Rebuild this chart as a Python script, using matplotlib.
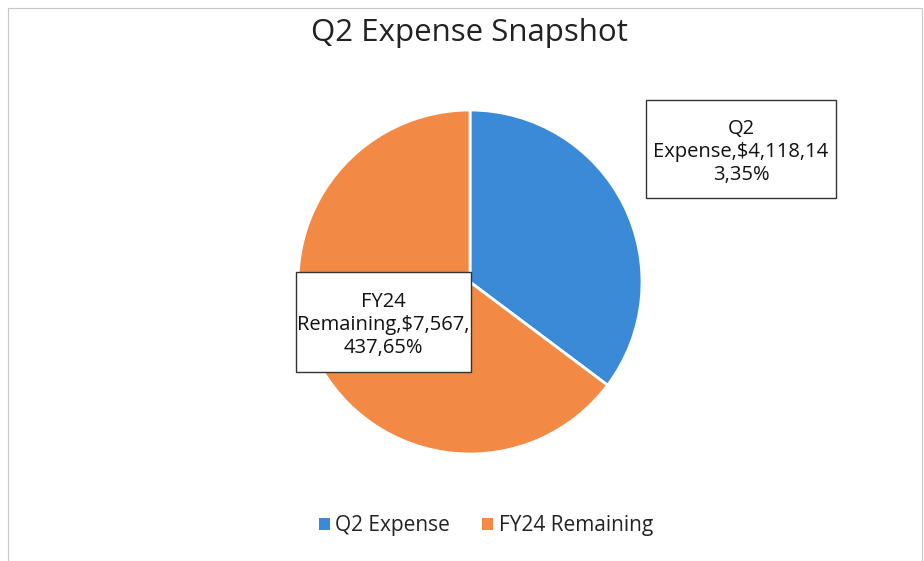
import matplotlib
matplotlib.use("Agg")
import matplotlib.pyplot as plt
from matplotlib.patches import Rectangle

plt.rcParams['font.family'] = ['Open Sans', 'DejaVu Sans']

categories = ["Q2 Expense", "FY24 Remaining"]
values = [4118143, 7567437]
percents = [35, 65]
label_texts = ["Q2\nExpense,$4,118,14\n3,35%", "FY24\nRemaining,$7,567,\n437,65%"]
colors = ["#3A8AD8", "#F28A45"]
title = "Q2 Expense Snapshot"

W, H = 924, 561
fig = plt.figure(figsize=(W / 100, H / 100), dpi=100)
fig.patch.set_facecolor("white")

def fx(x): return x / W
def fy(y): return 1 - y / H

# outer chart border
fig.add_artist(Rectangle((fx(8), fy(561)), fx(914), 553 / H, transform=fig.transFigure,
                         fill=False, edgecolor="#c8c8c8", linewidth=0.8))

# pie
cx, cy, r = 470, 282, 172
ax = fig.add_axes([fx(cx - r), fy(cy + r), 2 * r / W, 2 * r / H])
ax.pie(values, colors=colors, startangle=90, counterclock=False,
       wedgeprops=dict(edgecolor="white", linewidth=2))
ax.set_xlim(-1, 1)
ax.set_ylim(-1, 1)
ax.set_aspect("auto")
ax.axis("off")

fig.text(fx(469), fy(33), title, ha="center", va="center", fontsize=22.5, color="#222222")

# data label boxes
boxes = [(646, 100, 836, 198), (296, 272, 471, 372)]
for (x0, y0, x1, y1), txt in zip(boxes, label_texts):
    fig.add_artist(Rectangle((fx(x0), fy(y1)), (x1 - x0) / W, (y1 - y0) / H,
                             transform=fig.transFigure, facecolor="white",
                             edgecolor="#333333", linewidth=1.0, zorder=5))
    fig.text(fx((x0 + x1) / 2), fy((y0 + y1) / 2 + 3), txt, ha="center", va="center",
             fontsize=14.5, color="#111111", linespacing=1.22, zorder=6)

# legend
leg_items = [(319, 335), (482, 499)]
for (sx, tx), cat, col in zip(leg_items, categories, colors):
    fig.add_artist(Rectangle((fx(sx), fy(530)), 11 / W, 12 / H, transform=fig.transFigure,
                             facecolor=col, edgecolor="none"))
    fig.text(fx(tx), fy(525), cat, ha="left", va="center", fontsize=15, color="#222222")

fig.savefig("out.png", dpi=100)
